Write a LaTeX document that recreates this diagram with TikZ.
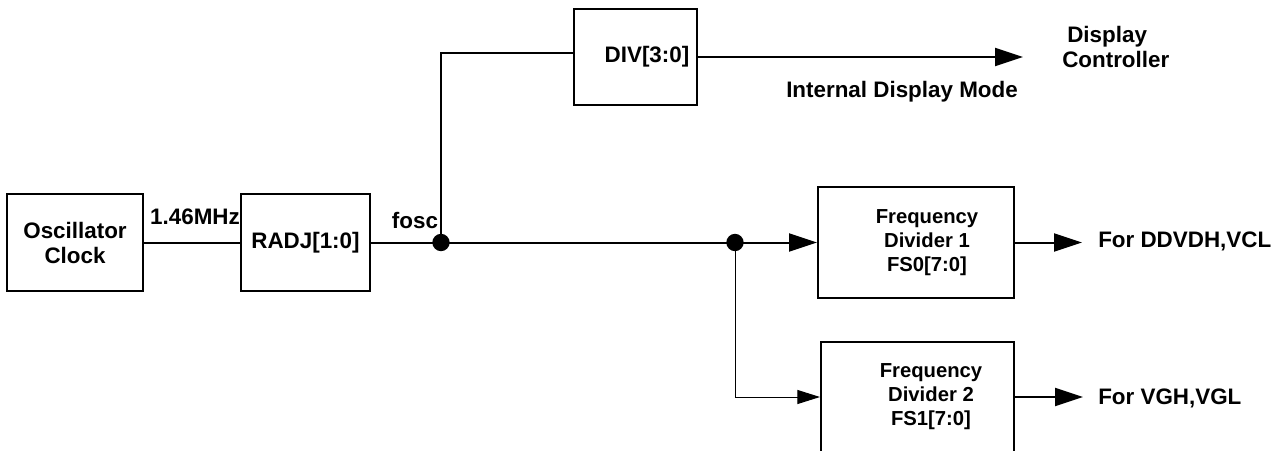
\documentclass[tikz,border=0pt]{standalone}
\usepackage{fontspec}
\setmainfont{Liberation Sans}
\usetikzlibrary{arrows.meta,calc}
\begin{document}
\begin{tikzpicture}[x=0.75pt,y=-0.75pt,
  box/.style={draw,line width=1.5pt,inner sep=0pt,align=center,font=\fontsize{16.8}{18.75}\selectfont\bfseries},
  wire/.style={line width=1.5pt},
  thinwire/.style={line width=0.75pt},
  big/.style={font=\fontsize{16.8}{18.75}\selectfont\bfseries, align=center, inner sep=0pt},
  small/.style={font=\fontsize{15.2}{18}\selectfont\bfseries, align=center, inner sep=0pt},
  arr/.style={-{Triangle[length=21pt,width=13.5pt]}},
  sarr/.style={-{Triangle[length=17pt,width=10.5pt]}},
  dotnode/.style={circle,fill,inner sep=0pt,minimum size=13pt}]
\useasboundingbox (0,0) rectangle (1285,450);

% boxes
\node[box,minimum width=102pt,minimum height=72.75pt] (osc) at (75,242.5) {Oscillator\\Clock};
\node[box,minimum width=96.75pt,minimum height=72.75pt] (radj) at (305.5,242.5) {RADJ[1:0]};
\node[box,minimum width=92.25pt,minimum height=72pt] (div) at (635.5,57) {};
\node[big] (divt) at (647,57) {DIV[3:0]};
\node[box,minimum width=147pt,minimum height=83.25pt] (fd1) at (916,242.5) {};
\node[small] (fd1t) at (927,243) {Frequency\\Divider 1\\FS0[7:0]};
\node[box,minimum width=144.75pt,minimum height=82.5pt] (fd2) at (917.5,397) {};
\node[small] (fd2t) at (931,397) {Frequency\\Divider 2\\FS1[7:0]};

% junction dots
\node[dotnode] (d1) at (441,242.5) {};
\node[dotnode] (d2) at (735,242.5) {};

% free ends
\coordinate (divin) at ($(div.west)+(0,-4)$);
\coordinate (dcin) at (1023,57);
\coordinate (o1end) at (1082,242.5);
\coordinate (o2end) at (1083,397);

% labels
\node[big] (mhz) at (195,217) {1.46MHz};
\node[big] (fosc) at (415,220) {fosc};
\node[big] (idm) at (902,92) {Internal Display Mode};
\node[big,align=left,anchor=west] (dc) at (1062,47) {\hspace*{3.75pt}Display\\Controller};
\node[big,anchor=west] (o1) at (1098,241) {For DDVDH,VCL};
\node[big,anchor=west] (o2) at (1098,398) {For VGH,VGL};

% connectors
\draw[wire] (osc.east) -- (radj.west);
\draw[wire] (radj.east) -- (d1.center);
\draw[wire] (d1.center) -- (d2.center);
\draw[wire,arr] (d2.center) -- (fd1.west);
\draw[wire] (d1.center) |- (divin);
\draw[wire,arr] (div.east) -- (dcin);
\draw[thinwire,sarr] (d2.center) |- (fd2.west);
\draw[wire,arr] (fd1.east) -- (o1end);
\draw[wire,arr] (fd2.east) -- (o2end);
\end{tikzpicture}
\end{document}
